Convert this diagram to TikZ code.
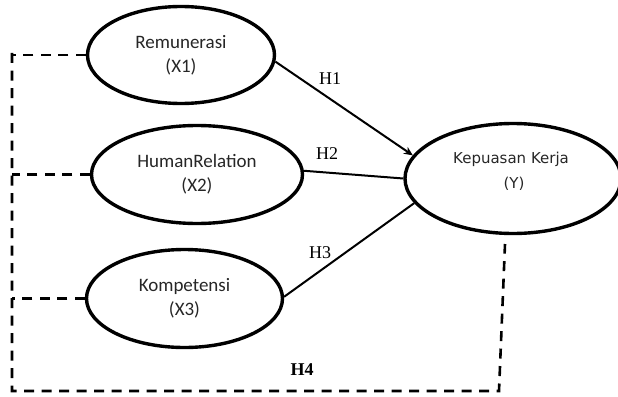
\documentclass[tikz,border=0pt]{standalone}
\usepackage{fontspec}
\setmainfont{Liberation Serif}
\newfontfamily\calib{Carlito}
\newfontfamily\dvs{DejaVu Sans}
\usetikzlibrary{shapes.geometric,arrows.meta}
\begin{document}
\begin{tikzpicture}[x=1pt,y=-1pt,
  var/.style={draw, ellipse, line width=3.4pt, inner sep=0pt, align=center,
    font=\calib\fontsize{19}{24}\selectfont, text=black!85},
  link/.style={line width=2pt},
  dsh/.style={line width=2.6pt, dash pattern=on 10pt off 7.5pt},
  hlab/.style={font=\fontsize{18}{20}\selectfont, inner sep=0pt}]
\useasboundingbox (0,0) rectangle (618,396);
\node[var, minimum width=187pt, minimum height=97pt] (x1) at (181,55) {Remunerasi\\(X1)};
\node[var, minimum width=211pt, minimum height=98pt] (x2) at (197,174.5) {HumanRelation\\(X2)};
\node[var, minimum width=196pt, minimum height=98pt] (x3) at (184.5,298.5) {Kompetensi\\(X3)};
\node[var, minimum width=216pt, minimum height=110pt] (y) at (513,178.5) {};
\node[align=center, inner sep=0pt, font=\dvs\fontsize{15}{25}\selectfont, text=black!85] (yl) at (511,171.5) {Kepuasan Kerja\\\hspace*{6pt}(Y)};
% connectors
\draw[link, -{Stealth[length=9pt,width=8pt]}] (x1.-4) -- (y.167);
\draw[link] (x2.2) -- (y.180);
\draw[link] (x3.1) -- (y.194);
\node[hlab] (h1) at (330,79) {H1};
\node[hlab] (h2) at (327,154) {H2};
\node[hlab] (h3) at (320,253) {H3};
\node[hlab, font=\bfseries\fontsize{18}{20}\selectfont] (h4) at (302,370) {H4};
% dashed frame
\coordinate (lt) at (12,53);
\coordinate (lb) at (12,391);
\coordinate (rb) at (499,391);
\coordinate (yt) at (505,244);
\draw[dsh] (lt) -- (lb) -- (rb) -- (yt);
\draw[dsh] (x1.west) -- (x1.west -| lt);
\draw[dsh] (x2.west) -- (x2.west -| lt);
\draw[dsh] (x3.west) -- (x3.west -| lt);
\end{tikzpicture}
\end{document}
